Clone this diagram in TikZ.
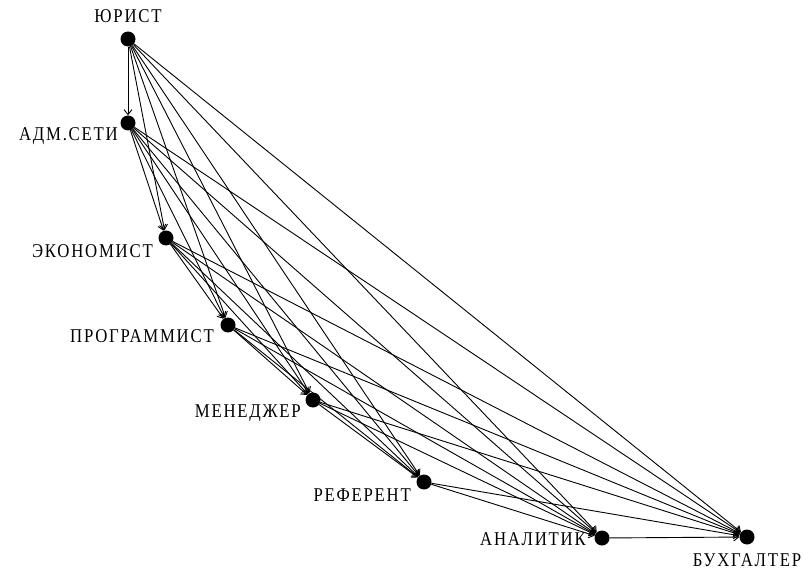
\documentclass[tikz,border=0pt]{standalone}
\usepackage{fontspec}
\newfontfamily\labfont[LetterSpace=9,FakeStretch=0.86]{Liberation Serif}
\usetikzlibrary{arrows.meta}
\begin{document}
\begin{tikzpicture}[x=1pt,y=-1pt,
  dot/.style={circle,fill=black,inner sep=0pt,minimum size=15pt},
  lab/.style={font=\labfont\fontsize{19.5}{19.5}\selectfont,inner sep=0pt},
  edge/.style={line width=0.9pt,-{Straight Barb[length=5pt,width=8pt]}}]
\useasboundingbox (0,0) rectangle (811,572);
\node[dot] (n1) at (128,39) {};
\node[dot] (n2) at (128,123) {};
\node[dot] (n3) at (166,238) {};
\node[dot] (n4) at (228,325) {};
\node[dot] (n5) at (313,400) {};
\node[dot] (n6) at (424,482) {};
\node[dot] (n7) at (602,538) {};
\node[dot] (n8) at (747,537) {};
\node[lab] (l1) at (128,16) {ЮРИСТ};
\node[lab,anchor=east] (l2) at (118,136) {АДМ.СЕТИ};
\node[lab,anchor=east] (l3) at (153,251) {ЭКОНОМИСТ};
\node[lab,anchor=east] (l4) at (214,336) {ПРОГРАММИСТ};
\node[lab,anchor=east] (l5) at (301,413) {МЕНЕДЖЕР};
\node[lab,anchor=east] (l6) at (411,495) {РЕФЕРЕНТ};
\node[lab,anchor=east] (l7) at (586,539) {АНАЛИТИК};
\node[lab] (l8) at (747,560) {БУХГАЛТЕР};
\foreach \i in {1,...,7}{
  \pgfmathtruncatemacro{\s}{\i+1}
  \foreach \j in {\s,...,8}{
    \draw[edge] (n\i) -- (n\j);
  }
}
\end{tikzpicture}
\end{document}
